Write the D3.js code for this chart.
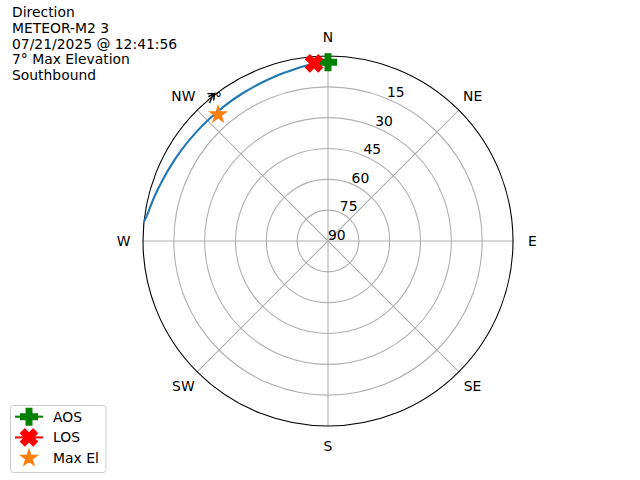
<!DOCTYPE html>
<html>
<head>
<meta charset="utf-8">
<script src="https://cdn.jsdelivr.net/npm/d3@7"></script>
<style>
  html, body { margin: 0; padding: 0; background: #fff; }
  svg { display: block; }
  text { font-family: "DejaVu Sans", sans-serif; font-size: 13.9px; fill: #000; }
</style>
</head>
<body>
<svg id="chart" width="640" height="480"></svg>
<script>
// ---- data ----
const titleLines = ["Direction", "METEOR-M2 3", "07/21/2025 @ 12:41:56", "7° Max Elevation", "Southbound"];
const compassLabels = ["N", "NE", "E", "SE", "S", "SW", "W", "NW"];
const compassAngles = [0, 45, 90, 135, 180, 225, 270, 315];
const elevationTicks = [15, 30, 45, 60, 75, 90];
const trackAzimuth = [276, 278, 281, 285, 290, 296, 302, 309, 316, 323, 330, 337, 343, 349, 355];
const trackElevation = [0, 1.0, 2.0, 3.0, 4.2, 5.3, 6.1, 6.8, 7.2, 7.2, 7.0, 6.5, 5.8, 4.9, 3.5];
const aosPoint = { az: 0, el: 3.0 };
const losPoint = { az: 355.5, el: 3.3 };
const maxElPoint = { az: 319, el: 8.5 };
const maxElLabel = "7°";
const legendLabels = ["AOS", "LOS", "Max El"];

// ---- layout ----
const svg = d3.select("#chart");
svg.append("rect").attr("width", 640).attr("height", 480).attr("fill", "#fff");
const cx = 328, cy = 241, R = 185;
const rScale = d3.scaleLinear().domain([90, 0]).range([0, R]);
const toRad = d => d * Math.PI / 180;
const pos = (az, el) => [cx + rScale(el) * Math.sin(toRad(az)), cy - rScale(el) * Math.cos(toRad(az))];

const g = svg.append("g");
const gridColor = "#b0b0b0";

// rings
g.selectAll("circle.ring").data(elevationTicks.filter(e => e < 90)).enter()
  .append("circle").attr("cx", cx).attr("cy", cy).attr("r", d => rScale(d))
  .attr("fill", "none").attr("stroke", gridColor).attr("stroke-width", 1.1);
// spokes
g.selectAll("line.spoke").data(compassAngles).enter().append("line")
  .attr("x1", cx).attr("y1", cy)
  .attr("x2", d => pos(d, 0)[0]).attr("y2", d => pos(d, 0)[1])
  .attr("stroke", gridColor).attr("stroke-width", 1.1);

// radial labels at 22.5°
g.selectAll("text.rl").data(elevationTicks).enter().append("text")
  .attr("x", d => pos(22.5, d)[0])
  .attr("y", d => pos(22.5, d)[1] - 1.5)
  .attr("text-anchor", "start")
  .text(d => d);

// outer circle
g.append("circle").attr("cx", cx).attr("cy", cy).attr("r", R)
  .attr("fill", "none").attr("stroke", "#000").attr("stroke-width", 1.1);

// compass labels
g.selectAll("text.cl").data(compassLabels).enter().append("text")
  .attr("x", (d, i) => cx + (R + 19.5) * Math.sin(toRad(compassAngles[i])))
  .attr("y", (d, i) => cy - (R + 19.5) * Math.cos(toRad(compassAngles[i])))
  .attr("dy", "0.36em")
  .attr("text-anchor", "middle")
  .text(d => d);

// track
const trackData = trackAzimuth.map((a, i) => ({ az: a, el: trackElevation[i] }));
const line = d3.lineRadial()
  .angle(d => toRad(d.az))
  .radius(d => rScale(d.el))
  .curve(d3.curveCatmullRom.alpha(0.5));
g.append("path").attr("transform", `translate(${cx},${cy})`)
  .attr("d", line(trackData))
  .attr("fill", "none").attr("stroke", "#1f77b4").attr("stroke-width", 2.08)
  .attr("stroke-linejoin", "round");

// marker paths
const ms = 16.67;
function plusPath(s) {
  const v = [[-1,-3],[-1,-1],[-3,-1],[-3,1],[-1,1],[-1,3],[1,3],[1,1],[3,1],[3,-1],[1,-1],[1,-3]];
  return "M" + v.map(p => [p[0] * s / 6, p[1] * s / 6].join(",")).join("L") + "Z";
}
function xPath(s) {
  const v = [[-1,-2],[0,-1],[1,-2],[2,-1],[1,0],[2,1],[1,2],[0,1],[-1,2],[-2,1],[-1,0],[-2,-1]];
  return "M" + v.map(p => [p[0] * s / 4, p[1] * s / 4].join(",")).join("L") + "Z";
}
function starPath(s) {
  const Ro = s / 2, Ri = Ro * 0.381966;
  const pts = [];
  for (let i = 0; i < 10; i++) {
    const r = i % 2 === 0 ? Ro : Ri;
    const a = i * Math.PI / 5;
    pts.push([r * Math.sin(a), -r * Math.cos(a)]);
  }
  return "M" + pts.map(p => p.join(",")).join("L") + "Z";
}
const markerDefs = [
  { path: plusPath(ms), color: "#008000", line: true },
  { path: xPath(ms), color: "#ff0000", line: true },
  { path: starPath(ms), color: "#ff7f0e", line: false }
];

// AOS, LOS, Max El
[aosPoint, losPoint, maxElPoint].forEach((p, i) => {
  const [x, y] = pos(p.az, p.el);
  g.append("path").attr("d", markerDefs[i].path)
    .attr("transform", `translate(${x},${y})`)
    .attr("fill", markerDefs[i].color)
    .attr("stroke", markerDefs[i].color).attr("stroke-width", 1.39)
    .attr("stroke-linejoin", "miter");
});

// annotation for max el
const [sx, sy] = pos(maxElPoint.az, maxElPoint.el);
g.append("text").attr("x", sx - 4).attr("y", sy - 11.7)
  .attr("text-anchor", "middle").text(maxElLabel);
const tip = [sx - 3.5, sy - 21];
const dir = Math.atan2(-9.3, 6.7);
const legLen = 7, spread = toRad(28);
const a1 = dir + Math.PI - spread, a2 = dir + Math.PI + spread;
g.append("path")
  .attr("d", `M${tip[0] + legLen * Math.cos(a1)},${tip[1] + legLen * Math.sin(a1)}L${tip[0]},${tip[1]}L${tip[0] + legLen * Math.cos(a2)},${tip[1] + legLen * Math.sin(a2)}`)
  .attr("fill", "none").attr("stroke", "#000").attr("stroke-width", 1.5);

// title block
svg.append("g").selectAll("text").data(titleLines).enter().append("text")
  .attr("x", 12).attr("y", (d, i) => 17 + i * 15.8)
  .text(d => d);

// legend
const lg = svg.append("g");
lg.append("rect").attr("x", 10.5).attr("y", 405.5).attr("width", 95.5).attr("height", 67)
  .attr("rx", 3).attr("fill", "#fff").attr("fill-opacity", 0.8)
  .attr("stroke", "#cccccc").attr("stroke-width", 1);
legendLabels.forEach((lab, i) => {
  const yc = 416.7 + i * 20.7;
  if (markerDefs[i].line) {
    lg.append("line").attr("x1", 15).attr("x2", 43).attr("y1", yc).attr("y2", yc)
      .attr("stroke", markerDefs[i].color).attr("stroke-width", 2.08);
  }
  lg.append("path").attr("d", markerDefs[i].path)
    .attr("transform", `translate(29,${yc})`)
    .attr("fill", markerDefs[i].color)
    .attr("stroke", markerDefs[i].color).attr("stroke-width", 1.39);
  lg.append("text").attr("x", 53).attr("y", yc + 5).text(lab);
});
</script>
</body>
</html>
